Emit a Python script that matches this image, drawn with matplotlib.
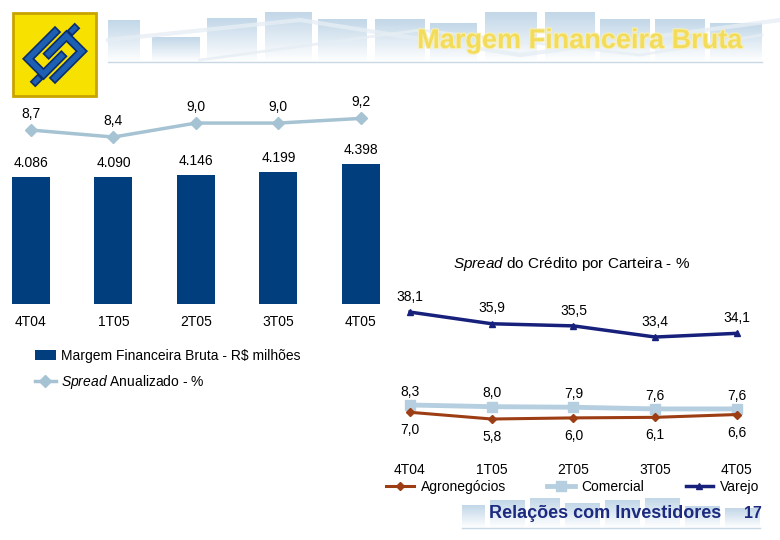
import numpy as np
import matplotlib
matplotlib.use("Agg")
import matplotlib.pyplot as plt
import matplotlib.patheffects as pe
from matplotlib import font_manager
from matplotlib.patches import Rectangle, Polygon
from matplotlib.colors import LinearSegmentedColormap
from matplotlib.transforms import Affine2D

plt.rcParams['font.family'] = ['Liberation Sans', 'DejaVu Sans']
plt.rcParams['mathtext.fontset'] = 'custom'
plt.rcParams['mathtext.rm'] = 'Liberation Sans'
plt.rcParams['mathtext.it'] = 'Liberation Sans:italic'

# data
quarters = ['4T04', '1T05', '2T05', '3T05', '4T05']
margem = [4086, 4090, 4146, 4199, 4398]          # R$ milhoes
spread_anual = [8.7, 8.4, 9.0, 9.0, 9.2]         # %
varejo = [38.1, 35.9, 35.5, 33.4, 34.1]
comercial = [8.3, 8.0, 7.9, 7.6, 7.6]
agro = [7.0, 5.8, 6.0, 6.1, 6.6]

W, H = 780, 540


def px(x, y, w, h):
    # pixel box (top-left origin) -> figure fraction
    return [x / W, 1 - (y + h) / H, w / W, h / H]


def br(v, dec=1):
    return f"{v:.{dec}f}".replace('.', ',')


def thousands(v):
    return f"{v:,}".replace(',', '.')


# narrow bold face for the header title, if there is one
try:
    font_manager.findfont(font_manager.FontProperties(family='Liberation Sans Narrow'),
                          fallback_to_default=False)
    title_family, title_size = 'Liberation Sans Narrow', 21
except Exception:
    title_family, title_size = 'Liberation Sans', 19.5

fig = plt.figure(figsize=(W / 100, H / 100), dpi=100)

# ---- decoration layer (pixel coords) ----
bg = fig.add_axes([0, 0, 1, 1], zorder=0)
bg.set_xlim(0, W)
bg.set_ylim(H, 0)
bg.axis('off')

fade = LinearSegmentedColormap.from_list('fade', ['#c2d7e8', '#ffffff'])
grad = np.linspace(0, 1, 64).reshape(-1, 1)

banner = [(108, 140, 20), (152, 200, 37), (207, 257, 18), (265, 312, 12),
          (318, 367, 19), (375, 425, 19), (430, 477, 23), (485, 537, 12),
          (545, 595, 12), (600, 650, 19), (655, 705, 19), (710, 762, 23)]
for x0, x1, top in banner:
    bg.imshow(grad, extent=(x0, x1, 62, top), cmap=fade, aspect='auto',
              origin='upper', zorder=1)
bg.plot([108, 762], [62, 62], color='#c8d8e4', lw=1, zorder=2)
bg.plot([108, 300, 520, 780], [40, 20, 55, 20], color='#e6eef4', lw=3, zorder=2, alpha=0.8)
bg.plot([200, 420, 640, 762], [60, 30, 55, 35], color='#e6eef4', lw=2, zorder=2, alpha=0.8)

bottom_banner = [(462, 485, 505), (490, 525, 500), (530, 560, 498), (565, 600, 503),
                 (605, 640, 500), (645, 680, 498), (685, 720, 506), (725, 760, 508)]
for x0, x1, top in bottom_banner:
    bg.imshow(grad, extent=(x0, x1, 528, top), cmap=fade, aspect='auto',
              origin='upper', zorder=1)
bg.plot([462, 760], [528, 528], color='#c8d8e4', lw=1, zorder=2)
bg.set_xlim(0, W)
bg.set_ylim(H, 0)

# logo: yellow square with two interlocking hooks turned 45 degrees
bg.add_patch(Rectangle((13, 13), 83, 83, facecolor='#f6e100', edgecolor='#c9a400', lw=2, zorder=3))
k = 0.9 / np.sqrt(2)
diag = Affine2D(np.array([[k, -k, 55], [-k, -k, 55], [0, 0, 1]])) + bg.transData
hook = [(-28, 22), (22, 22), (22, 14), (-20, 14), (-20, -2), (8, -2), (8, -10), (-28, -10)]
tail = [(29, 2), (40, 2), (40, 9), (29, 9)]
for pts in (hook, [(-u, -v) for u, v in hook], tail, [(-u, -v) for u, v in tail]):
    bg.add_patch(Polygon(pts, closed=True, facecolor='#1d5fb2', edgecolor='#0b2d6c',
                         lw=1.2, transform=diag, zorder=4))

bg.text(580, 41, 'Margem Financeira Bruta', fontsize=title_size, fontweight='bold',
        family=title_family, color='#f2dc5a', ha='center', va='center', zorder=5,
        path_effects=[pe.withStroke(linewidth=1.5, foreground='#f8efb8')])
bg.text(605, 514, 'Relações com Investidores', fontsize=13, fontweight='bold',
        color='#1c2a80', ha='center', va='center', zorder=5)
bg.text(753, 514, '17', fontsize=11.5, fontweight='bold', color='#1c2a80',
        ha='center', va='center', zorder=5)

# ---- left chart ----
x = np.arange(len(quarters))
ax1 = fig.add_axes(px(0, 90, 402, 214), zorder=2)
ax1.patch.set_alpha(0)
bars = ax1.bar(x, margem, width=0.46, color='#003e7e', label='Margem Financeira Bruta - R$ milhões')
ax1.set_xlim(-0.376, 4.5)
ax1.set_ylim(1038, 6174)
ax1.bar_label(bars, labels=[thousands(v) for v in margem], padding=5, fontsize=10)
ax1.set_xticks(x, quarters, fontsize=10)
ax1.tick_params(axis='x', length=0, pad=8)
ax1.set_yticks([])
for s in ax1.spines.values():
    s.set_visible(False)

ax2 = ax1.twinx()
ax2.patch.set_alpha(0)
line, = ax2.plot(x, spread_anual, color='#a6c3d3', lw=2.5, marker='D', markersize=6,
                 label=r'$\mathit{Spread}$ Anualizado - %')
ax2.set_ylim(1.23, 10.42)
for xi, v in zip(x, spread_anual):
    ax2.annotate(br(v), (xi, v), xytext=(0, 11.5), textcoords='offset points',
                 ha='center', va='center', fontsize=10)
ax2.set_yticks([])
for s in ax2.spines.values():
    s.set_visible(False)

fig.legend(handles=[bars, line], loc='upper left', bbox_to_anchor=(35 / W, 1 - 349 / H),
           frameon=False, fontsize=10, handlelength=1.5, handletextpad=0.35,
           labelspacing=0.7, borderpad=0, borderaxespad=0)

# ---- right chart ----
ax3 = fig.add_axes(px(380, 285, 390, 60), zorder=2)
ax3.patch.set_alpha(0)
l_var, = ax3.plot(x, varejo, color='#17207a', lw=2.5, marker='^', markersize=5, label='Varejo')
ax3.set_xlim(-0.367, 4.404)
ax3.set_ylim(31.9, 43.2)
for xi, v in zip(x, varejo):
    ax3.annotate(br(v), (xi, v), xytext=(0, 11), textcoords='offset points',
                 ha='center', va='center', fontsize=10)
ax3.axis('off')

ax4 = fig.add_axes(px(380, 380, 390, 50), zorder=2)
ax4.patch.set_alpha(0)
l_com, = ax4.plot(x, comercial, color='#b5cfe0', lw=3.5, marker='s', markersize=7, label='Comercial')
l_agr, = ax4.plot(x, agro, color='#9c3d14', lw=2.2, marker='D', markersize=4, label='Agronegócios')
ax4.set_xlim(-0.367, 4.404)
ax4.set_ylim(3.84, 12.76)
for xi, v in zip(x, comercial):
    ax4.annotate(br(v), (xi, v), xytext=(0, 9.5), textcoords='offset points',
                 ha='center', va='center', fontsize=10)
for xi, v in zip(x, agro):
    ax4.annotate(br(v), (xi, v), xytext=(0, -13), textcoords='offset points',
                 ha='center', va='center', fontsize=10)
ax4.set_xticks(x, quarters, fontsize=10)
ax4.tick_params(axis='x', length=0, pad=24)
ax4.set_yticks([])
for s in ax4.spines.values():
    s.set_visible(False)

fig.text(572 / W, 1 - 264 / H, r'$\mathit{Spread}$ do Crédito por Carteira - %',
         ha='center', va='center', fontsize=11)

fig.legend(handles=[l_agr, l_com, l_var], loc='center left',
           bbox_to_anchor=(386 / W, 1 - 487 / H), ncol=3, frameon=False, fontsize=10,
           handlelength=2.0, handletextpad=0.5, columnspacing=2.95,
           borderpad=0, borderaxespad=0)

fig.savefig('out.png', dpi=100)
